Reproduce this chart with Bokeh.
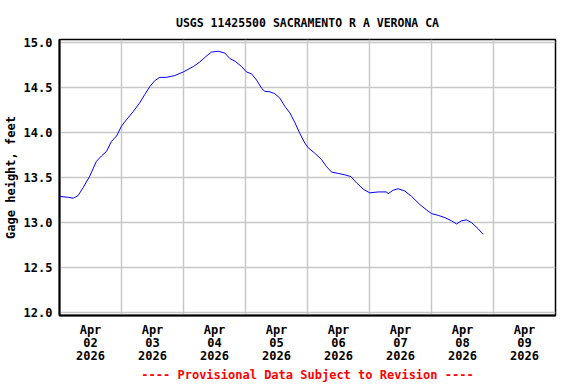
import pandas as pd
from bokeh.plotting import figure
from bokeh.models import (FixedTicker, DatetimeTickFormatter, NumeralTickFormatter,
                          Range1d, ColumnDataSource)
from bokeh.embed import file_html
from bokeh.resources import INLINE

# ---- data ----
start_time = "2026-04-02 00:00"
hours_since_start = [0.0, 3.4, 5.3, 7.2, 9.2, 11.7, 14.3, 16.3, 18.2, 20.1, 22.1,
                     24.0, 25.9, 28.5, 31.1, 33.0, 35.0, 36.9, 38.8, 41.4, 44.6,
                     47.9, 51.8, 54.3, 56.6, 58.8, 61.4, 64.0, 65.9, 67.9, 70.5,
                     72.4, 74.3, 76.3, 78.2, 79.5, 81.4, 83.3, 85.3, 87.2, 89.2,
                     91.1, 93.0, 95.0, 96.3, 98.8, 101.4, 103.4, 105.3, 107.9,
                     110.4, 112.8, 115.0, 117.6, 120.1, 123.4, 126.6, 127.2, 129.2,
                     131.1, 133.7, 136.3, 139.5, 142.1, 144.0, 146.6, 149.2, 151.7,
                     153.7, 155.6, 157.6, 159.5, 162.1, 164.0]
gage_height_ft = [13.29, 13.28, 13.27, 13.30, 13.39, 13.515, 13.68, 13.74, 13.79,
                  13.90, 13.96, 14.07, 14.14, 14.23, 14.33, 14.42, 14.51, 14.575,
                  14.61, 14.61, 14.63, 14.67, 14.73, 14.78, 14.84, 14.89, 14.90,
                  14.88, 14.82, 14.79, 14.73, 14.67, 14.65, 14.58, 14.49, 14.455,
                  14.45, 14.43, 14.38, 14.29, 14.215, 14.11, 13.99, 13.88, 13.83,
                  13.77, 13.70, 13.62, 13.56, 13.545, 13.53, 13.51, 13.44, 13.37,
                  13.33, 13.34, 13.34, 13.32, 13.36, 13.375, 13.35, 13.29, 13.20,
                  13.14, 13.10, 13.08, 13.055, 13.02, 12.985, 13.02, 13.03, 13.00,
                  12.93, 12.87]
day_labels = ["2026-04-02", "2026-04-03", "2026-04-04", "2026-04-05",
              "2026-04-06", "2026-04-07", "2026-04-08", "2026-04-09"]
y_ticks = [12.0, 12.5, 13.0, 13.5, 14.0, 14.5, 15.0]
title_text = "USGS 11425500 SACRAMENTO R A VERONA CA"
y_label = "Gage height, feet"
note_text = "---- Provisional Data Subject to Revision ----"

t0 = pd.Timestamp(start_time)
times = [t0 + pd.Timedelta(hours=h) for h in hours_since_start]
src = ColumnDataSource(dict(t=times, h=gage_height_ft))

def ms(ts):
    return ts.value / 1e6

noon_ticks = [ms(pd.Timestamp(d) + pd.Timedelta(hours=12)) for d in day_labels]
midnight_ticks = [ms(pd.Timestamp(d)) for d in day_labels] + \
                 [ms(pd.Timestamp(day_labels[-1]) + pd.Timedelta(days=1))]

FONT = "DejaVu Sans Mono"

p = figure(frame_width=496, frame_height=276, x_axis_type="datetime",
           output_backend="svg", toolbar_location=None,
           x_range=Range1d(t0, pd.Timestamp(day_labels[-1]) + pd.Timedelta(days=1)),
           y_range=Range1d(11.97, 15.03),
           min_border_left=50, min_border_right=14, min_border_top=39,
           min_border_bottom=58, background_fill_color="white",
           border_fill_color="white")

p.line("t", "h", source=src, line_color="#0000ff", line_width=1)

p.title.text = title_text
p.title.align = "center"
p.title.text_font = FONT
p.title.text_font_size = "11.5px"
p.title.text_font_style = "bold"
p.title.text_color = "black"
p.title.standoff = 20

p.outline_line_color = "black"
p.outline_line_width = 1.5
p.outline_line_alpha = 1

# x axis
p.xaxis.ticker = FixedTicker(ticks=noon_ticks)
fmt = "%b\n%d\n%Y"
p.xaxis.formatter = DatetimeTickFormatter(
    milliseconds=fmt, seconds=fmt, minsec=fmt, minutes=fmt, hourmin=fmt,
    hours=fmt, days=fmt, months=fmt, years=fmt)
p.xaxis.major_tick_line_color = None
p.xaxis.minor_tick_line_color = None
p.xaxis.major_tick_out = 0
p.xaxis.major_tick_in = 0
p.xaxis.axis_line_color = "black"
p.xaxis.axis_line_width = 2
p.xaxis.major_label_standoff = 7
p.xaxis.major_label_text_font = FONT
p.xaxis.major_label_text_font_size = "12px"
p.xaxis.major_label_text_font_style = "bold"
p.xaxis.major_label_text_color = "black"
p.xaxis.major_label_text_line_height = 0.93
p.xaxis.axis_label = note_text
p.xaxis.axis_label_text_color = "red"
p.xaxis.axis_label_text_font = FONT
p.xaxis.axis_label_text_font_size = "12px"
p.xaxis.axis_label_text_font_style = "bold"
p.xaxis.axis_label_standoff = 2

# y axis
p.yaxis.ticker = FixedTicker(ticks=y_ticks)
p.yaxis.formatter = NumeralTickFormatter(format="0.0")
p.yaxis.major_tick_line_color = None
p.yaxis.minor_tick_line_color = None
p.yaxis.major_tick_out = 0
p.yaxis.major_tick_in = 0
p.yaxis.axis_line_color = "black"
p.yaxis.axis_line_width = 2
p.yaxis.major_label_standoff = 7
p.yaxis.major_label_text_font = FONT
p.yaxis.major_label_text_font_size = "12px"
p.yaxis.major_label_text_font_style = "bold"
p.yaxis.major_label_text_color = "black"
p.yaxis.axis_label = y_label
p.yaxis.axis_label_text_font = FONT
p.yaxis.axis_label_text_font_size = "12px"
p.yaxis.axis_label_text_font_style = "bold"
p.yaxis.axis_label_text_color = "black"
p.yaxis.axis_label_standoff = 3

# grids
p.xgrid.ticker = FixedTicker(ticks=midnight_ticks)
p.ygrid.ticker = FixedTicker(ticks=y_ticks)
for g in (p.xgrid, p.ygrid):
    g.grid_line_color = "#c8c8c8"
    g.grid_line_width = 1.5
    g.grid_line_alpha = 1

open("out.html", "w").write(file_html(p, INLINE))
